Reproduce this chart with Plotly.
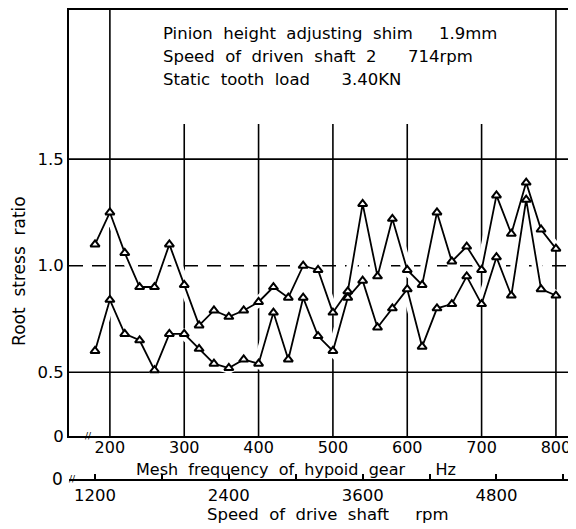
import plotly.graph_objects as go

# ---- data ----
mesh_hz = [180, 200, 220, 240, 260, 280, 300, 320, 340, 360, 380, 400, 420, 440, 460, 480,
           500, 520, 540, 560, 580, 600, 620, 640, 660, 680, 700, 720, 740, 760, 780, 800]
upper_ratio = [1.10, 1.25, 1.06, 0.90, 0.90, 1.10, 0.91, 0.72, 0.79, 0.76, 0.79, 0.83, 0.90, 0.85, 1.00, 0.98,
               0.78, 0.88, 1.29, 0.95, 1.22, 0.98, 0.91, 1.25, 1.02, 1.09, 0.98, 1.33, 1.15, 1.39, 1.17, 1.08]
lower_ratio = [0.60, 0.84, 0.68, 0.65, 0.51, 0.68, 0.68, 0.61, 0.54, 0.52, 0.56, 0.54, 0.78, 0.56, 0.85, 0.67,
               0.60, 0.85, 0.93, 0.71, 0.80, 0.89, 0.62, 0.80, 0.82, 0.95, 0.82, 1.04, 0.86, 1.31, 0.89, 0.86]

hz_ticks = [200, 300, 400, 500, 600, 700, 800]
hz_labels = ["200", "300", "400", "500", "600", "700", "800"]
rpm_ticks = [1200, 1800, 2400, 3000, 3600, 4200, 4800, 5400]
rpm_labels = ["1200", "", "2400", "", "3600", "", "4800", ""]
y_ticks = [0.2, 0.5, 1.0, 1.5]          # axis is broken: bottom of the axis is labelled 0
y_labels = ["0", "0.5", "1.0", "1.5"]
pinion_teeth = 9                         # mesh frequency = rpm * teeth / 60

info_lines = ["Pinion  height  adjusting  shim     1.9mm",
              "Speed  of  driven  shaft  2      714rpm",
              "Static  tooth  load      3.40KN"]

# ---- layout geometry (page body adds an 8 px offset) ----
OFF = 8
W, H = 576 - OFF, 529 - OFF
PLOT_L, PLOT_R, PLOT_T, PLOT_B, AX2_Y = 69, 576, 8, 436, 480   # screen pixels
ML, MR, MT, MB = PLOT_L - OFF, 0, PLOT_T - OFF, 529 - AX2_Y
X_RANGE = [145, 827]
Y_RANGE = [0.2, 2.2]
Y_DOM0 = (AX2_Y - PLOT_B) / (AX2_Y - PLOT_T)
FONT = "DejaVu Sans"


def px_x(p):
    return (p - PLOT_L) / (PLOT_R - PLOT_L)


def px_y(p):
    return (AX2_Y - p) / (AX2_Y - PLOT_T)


fig = go.Figure()

# white halos make the grid lines break where the curves cross them
for ys in (upper_ratio, lower_ratio):
    fig.add_trace(go.Scatter(x=mesh_hz, y=ys, mode="lines",
                             line=dict(color="white", width=11),
                             hoverinfo="skip", showlegend=False))
for ys in (upper_ratio, lower_ratio):
    fig.add_trace(go.Scatter(x=mesh_hz, y=ys, mode="lines+markers",
                             line=dict(color="black", width=1.8),
                             marker=dict(symbol="triangle-up", size=8, color="white",
                                         line=dict(color="black", width=2)),
                             showlegend=False))

# trace on the secondary (rpm) axis so it is drawn
fig.add_trace(go.Scatter(x=rpm_ticks, y=[None] * len(rpm_ticks), xaxis="x2", yaxis="y",
                         mode="markers", hoverinfo="skip", showlegend=False))

shapes = []
for hz in hz_ticks:
    top = Y_RANGE[1] if hz in (200, 800) else 1.665
    shapes.append(dict(type="line", xref="x", yref="y", x0=hz, x1=hz, y0=Y_RANGE[0], y1=top,
                       line=dict(color="black", width=1.6), layer="below"))
for yv, dash in ((0.5, "solid"), (1.0, "14px,9px"), (1.5, "solid")):
    shapes.append(dict(type="line", xref="x", yref="y", x0=X_RANGE[0], x1=X_RANGE[1], y0=yv, y1=yv,
                       line=dict(color="black", width=1.6, dash=dash), layer="below"))

annotations = []
for i, t in enumerate(info_lines):
    annotations.append(dict(text=t, xref="paper", yref="paper", x=px_x(161), y=px_y(32 + 23 * i),
                            xanchor="left", yanchor="middle", showarrow=False,
                            font=dict(family=FONT, size=16.5, color="black")))
annotations += [
    dict(text="Root  stress  ratio", xref="paper", yref="paper", x=px_x(19), y=px_y(270),
         textangle=-90, showarrow=False, xanchor="center", yanchor="middle",
         font=dict(family=FONT, size=17, color="black")),
    dict(text="Mesh  frequency  of  hypoid  gear      Hz", xref="paper", yref="paper",
         x=px_x(296), y=px_y(469), showarrow=False, xanchor="center", yanchor="middle",
         font=dict(family=FONT, size=16, color="black")),
    dict(text="Speed  of  drive  shaft     rpm", xref="paper", yref="paper",
         x=px_x(328), y=px_y(515), showarrow=False, xanchor="center", yanchor="middle",
         font=dict(family=FONT, size=16.5, color="black")),
    dict(text="0", xref="paper", yref="paper", x=px_x(57), y=px_y(479), showarrow=False,
         xanchor="center", yanchor="middle", font=dict(family=FONT, size=17, color="black")),
    dict(text="//", xref="paper", yref="paper", x=px_x(88), y=px_y(436), showarrow=False,
         xanchor="center", yanchor="middle", font=dict(family=FONT, size=9, color="black")),
    dict(text="//", xref="paper", yref="paper", x=px_x(72), y=px_y(479), showarrow=False,
         xanchor="center", yanchor="middle", font=dict(family=FONT, size=9, color="black")),
]

fig.update_layout(
    width=W, height=H,
    margin=dict(l=ML, r=MR, t=MT, b=MB, pad=0),
    paper_bgcolor="white", plot_bgcolor="white",
    showlegend=False,
    font=dict(family=FONT, size=16, color="black"),
    xaxis=dict(range=X_RANGE, tickvals=hz_ticks, ticktext=hz_labels, showgrid=False,
               zeroline=False, showline=True, linecolor="black", linewidth=2, mirror=True,
               ticks="", anchor="y", ticklabelstandoff=-4, tickfont=dict(family=FONT, size=16)),
    xaxis2=dict(range=[v * 60 / pinion_teeth for v in X_RANGE], overlaying="x", anchor="free",
                position=0, side="bottom", tickvals=rpm_ticks, ticktext=rpm_labels,
                showgrid=False, zeroline=False, showline=True, linecolor="black", linewidth=1.6,
                ticks="inside", ticklen=5, tickwidth=1.5, tickcolor="black",
                tickfont=dict(family=FONT, size=16.5)),
    yaxis=dict(domain=[Y_DOM0, 1], range=Y_RANGE, tickvals=y_ticks, ticktext=y_labels,
               showgrid=False, zeroline=False, showline=True, linecolor="black", linewidth=2,
               ticks="", tickfont=dict(family=FONT, size=16.5)),
    shapes=shapes,
    annotations=annotations,
)

fig.write_html("out.html")
